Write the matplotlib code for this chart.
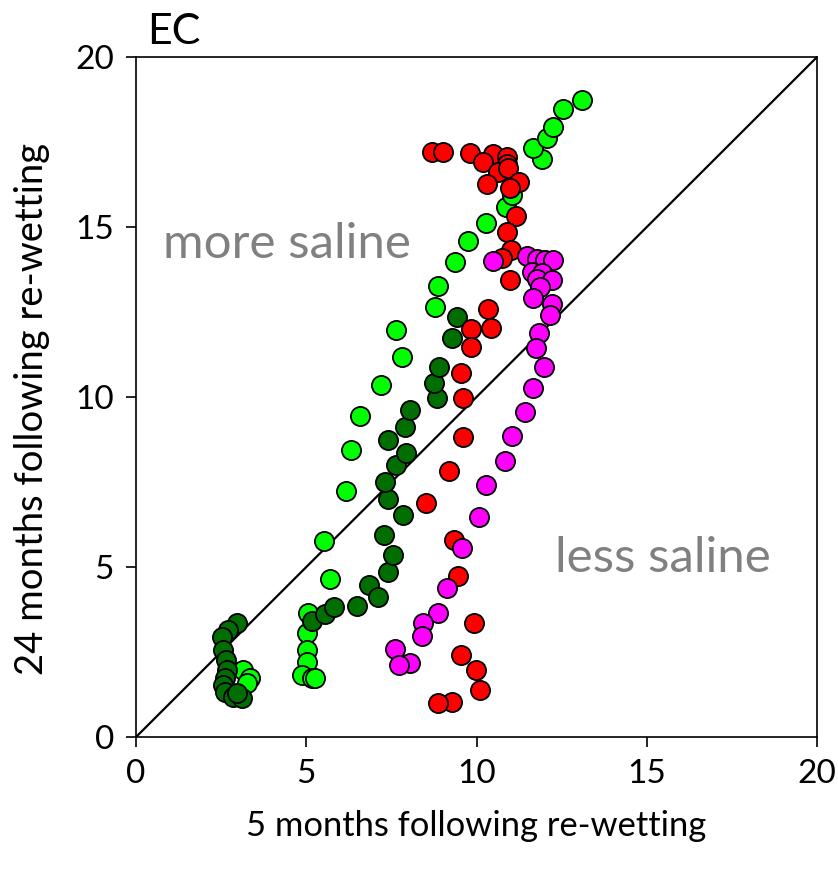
import matplotlib.pyplot as plt

# EC at two sampling times, one series per site
lg_x = [3.14, 3.35, 3.26, 5.05, 5.02, 5.02, 5.02, 4.88, 5.17, 5.26,
        5.70, 5.52, 6.17, 6.31, 6.58, 7.20, 7.81, 7.64, 8.78, 8.87, 9.37,
        9.75, 10.28, 10.87, 11.04, 11.92, 11.66, 12.07, 12.25, 12.54, 13.10]
lg_y = [1.97, 1.74, 1.59, 3.65, 3.06, 2.56, 2.21, 1.82, 1.74, 1.74,
        4.65, 5.76, 7.24, 8.44, 9.44, 10.35, 11.18, 11.97, 12.65, 13.26, 13.97,
        14.59, 15.12, 15.59, 15.94, 17.00, 17.32, 17.62, 17.94, 18.47, 18.74]

dg_x = [2.97, 2.70, 2.53, 2.56, 2.64, 2.67, 2.61, 2.56, 2.61, 2.85, 3.11, 2.97,
        5.17, 5.55, 5.81, 6.49, 6.84, 7.11, 7.40, 7.55, 7.28, 7.84, 7.40,
        7.31, 7.64, 7.93, 7.40, 7.90, 8.05, 8.84, 8.75, 8.90, 9.28, 9.43]
dg_y = [3.35, 3.15, 2.94, 2.56, 2.26, 1.97, 1.74, 1.53, 1.32, 1.18, 1.15, 1.29,
        3.41, 3.62, 3.82, 3.85, 4.47, 4.12, 4.85, 5.35, 5.94, 6.53, 7.00,
        7.50, 8.00, 8.35, 8.74, 9.12, 9.62, 9.97, 10.41, 10.88, 11.74, 12.35]

red_x = [8.69, 9.02, 9.81, 10.48, 10.90, 10.19, 10.90, 10.63, 10.93, 11.25,
         10.31, 10.98, 11.16, 10.90, 11.01, 10.75, 10.98, 10.34, 9.84, 10.43,
         9.84, 9.54, 9.60, 9.60, 9.19, 8.52, 9.34, 9.46, 9.93, 9.54, 9.99,
         10.10, 9.28, 8.87]
red_y = [17.21, 17.21, 17.18, 17.15, 17.06, 16.91, 16.85, 16.62, 16.74, 16.32,
         16.26, 16.15, 15.32, 14.85, 14.32, 14.09, 13.44, 12.59, 12.00, 12.03,
         11.47, 10.71, 9.97, 8.82, 7.82, 6.88, 5.79, 4.74, 3.35, 2.41, 1.97,
         1.38, 1.03, 1.00]

mag_x = [10.48, 11.48, 11.78, 12.01, 12.25, 11.63, 11.92, 11.78, 12.22, 11.86,
         11.66, 12.22, 12.16, 11.84, 11.75, 11.98, 11.66, 11.42, 11.04, 10.84,
         10.28, 10.07, 9.57, 9.13, 8.87, 8.43, 8.40, 7.61, 8.05, 7.72]
mag_y = [14.00, 14.15, 14.06, 14.03, 14.03, 13.68, 13.65, 13.47, 13.44, 13.24,
         12.91, 12.74, 12.41, 11.88, 11.44, 10.88, 10.26, 9.56, 8.85, 8.12,
         7.41, 6.47, 5.56, 4.38, 3.65, 3.35, 2.97, 2.59, 2.18, 2.12]

plt.rcParams['font.family'] = ['Lato', 'DejaVu Sans']

fig = plt.figure(figsize=(8.38, 8.77), dpi=100)
ax = fig.add_axes([0.1623, 0.1596, 0.8127, 0.7754])

ax.plot([0, 20], [0, 20], color='black', lw=1.6, zorder=1)

series = [(lg_x, lg_y, '#00ff00'), (dg_x, dg_y, '#006e00'),
          (red_x, red_y, '#ff0000'), (mag_x, mag_y, '#ff00ff')]
for i, (xs, ys, c) in enumerate(series):
    ax.scatter(xs, ys, s=190, c=c, edgecolors='black', linewidths=1.3,
               zorder=2 + i, clip_on=False)

ax.set_xlim(0, 20)
ax.set_ylim(0, 20)
ax.set_xticks([0, 5, 10, 15, 20])
ax.set_yticks([0, 5, 10, 15, 20])
ax.tick_params(direction='out', length=7, width=1.2, labelsize=24, pad=9)
for sp in ax.spines.values():
    sp.set_linewidth(1.2)

ax.set_xlabel('5 months following re-wetting', fontsize=24.8)
ax.set_ylabel('24 months following re-wetting', fontsize=27.5)
ax.xaxis.set_label_coords(0.5, -0.108)
ax.yaxis.set_label_coords(-0.126, 0.482)

ax.text(0.78, 14.09, 'more saline', fontsize=35.5, color='#808080')
ax.text(12.3, 4.85, 'less saline', fontsize=35.5, color='#808080')
fig.text(0.1754, 0.9498, 'EC', fontsize=31)

fig.savefig('out.png', dpi=100)
